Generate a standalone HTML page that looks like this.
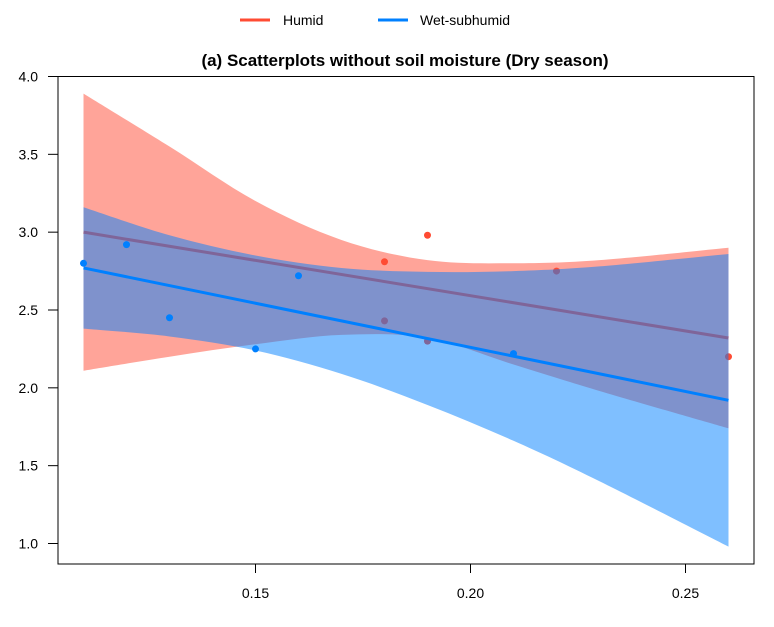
<!DOCTYPE html>
<html><head><meta charset="utf-8"><style>
body{margin:0;background:#fff}
svg{font-family:"Liberation Sans",Arial,sans-serif}
</style></head><body>
<svg width="774" height="622" viewBox="0 0 774 622">
<g>
<line x1="240" y1="20" x2="270" y2="20" stroke="#FF4B33" stroke-width="3"/>
<text x="283" y="25" font-size="14">Humid</text>
<line x1="378" y1="20" x2="408" y2="20" stroke="#0080FF" stroke-width="3"/>
<text x="420" y="25" font-size="14">Wet-subhumid</text>
</g>
<text x="405" y="66" font-size="17" font-weight="bold" text-anchor="middle">(a) Scatterplots without soil moisture (Dry season)</text>
<g id="plot"></g>
<rect x="58" y="76.5" width="696" height="487.5" fill="none" stroke="#000" stroke-width="1"/>
<g id="axes"></g>
</svg>
<script>
const bandX=[0.11,0.13,0.15,0.17,0.19,0.21,0.23,0.26];
const humidUpper=[3.89,3.55,3.20,2.95,2.82,2.80,2.82,2.90];
const humidLower=[2.11,2.20,2.28,2.34,2.32,2.15,1.98,1.74];
const wetUpper=[3.16,2.98,2.85,2.77,2.745,2.75,2.78,2.86];
const wetLower=[2.38,2.33,2.24,2.09,1.89,1.66,1.40,0.98];
const humidFitX=[0.11,0.26];
const humidFitY=[3.00,2.32];
const wetFitX=[0.11,0.26];
const wetFitY=[2.77,1.92];
const humidPtsX=[0.18,0.19,0.22,0.18,0.19,0.26];
const humidPtsY=[2.81,2.98,2.75,2.43,2.30,2.20];
const wetPtsX=[0.11,0.12,0.13,0.15,0.16,0.21];
const wetPtsY=[2.80,2.92,2.45,2.25,2.72,2.22];
const yTicks=[1.0,1.5,2.0,2.5,3.0,3.5,4.0];
const yTickLabels=["1.0","1.5","2.0","2.5","3.0","3.5","4.0"];
const xTicks=[0.15,0.20,0.25];
const xTickLabels=["0.15","0.20","0.25"];

const NS="http://www.w3.org/2000/svg";
const sx=v=>255.5+(v-0.15)*4300;
const sy=v=>543.5-(v-1)*155.67;
const plot=document.getElementById('plot'),axes=document.getElementById('axes');
function mk(tag,attrs,parent){const e=document.createElementNS(NS,tag);for(const k in attrs)e.setAttribute(k,attrs[k]);parent.appendChild(e);return e;}
function spline(P){
  let d="";
  for(let i=0;i<P.length-1;i++){
    const p0=P[Math.max(i-1,0)],p1=P[i],p2=P[i+1],p3=P[Math.min(i+2,P.length-1)];
    const c1=[p1[0]+(p2[0]-p0[0])/6,p1[1]+(p2[1]-p0[1])/6];
    const c2=[p2[0]-(p3[0]-p1[0])/6,p2[1]-(p3[1]-p1[1])/6];
    d+=` C${c1[0]},${c1[1]} ${c2[0]},${c2[1]} ${p2[0]},${p2[1]}`;
  }
  return d;
}
function band(up,lo,fill,op){
  const U=bandX.map((x,i)=>[sx(x),sy(up[i])]);
  const L=bandX.map((x,i)=>[sx(x),sy(lo[i])]).reverse();
  const d=`M${U[0][0]},${U[0][1]}`+spline(U)+` L${L[0][0]},${L[0][1]}`+spline(L)+"Z";
  return mk('path',{d:d,fill:fill,'fill-opacity':op},plot);
}
let e;
e=band(humidUpper,humidLower,'#FF4A33',0.5);


e=mk('line',{x1:sx(humidFitX[0]),y1:sy(humidFitY[0]),x2:sx(humidFitX[1]),y2:sy(humidFitY[1]),stroke:'#FF4B33','stroke-width':3},plot);


humidPtsX.forEach((x,i)=>{
  const c=mk('circle',{cx:sx(x),cy:sy(humidPtsY[i]),r:3.5,fill:'#FF4B33'},plot);
  
  
});
e=band(wetUpper,wetLower,'#0080FF',0.5);


e=mk('line',{x1:sx(wetFitX[0]),y1:sy(wetFitY[0]),x2:sx(wetFitX[1]),y2:sy(wetFitY[1]),stroke:'#0080FF','stroke-width':3},plot);


wetPtsX.forEach((x,i)=>{
  const c=mk('circle',{cx:sx(x),cy:sy(wetPtsY[i]),r:3.5,fill:'#0080FF'},plot);
  
  
});
yTicks.forEach((v,i)=>{
  const l=mk('line',{x1:48,x2:58,y1:sy(v),y2:sy(v),stroke:'#000'},axes);
  
  
  const t=mk('text',{x:38,y:sy(v)+5,'font-size':14,'text-anchor':'end'},axes);
  t.textContent=yTickLabels[i];
  
  
});
xTicks.forEach((v,i)=>{
  const l=mk('line',{x1:sx(v),x2:sx(v),y1:564,y2:573,stroke:'#000'},axes);
  
  
  const t=mk('text',{x:sx(v),y:598,'font-size':14,'text-anchor':'middle'},axes);
  t.textContent=xTickLabels[i];
  
  
});
</script>
</body></html>
